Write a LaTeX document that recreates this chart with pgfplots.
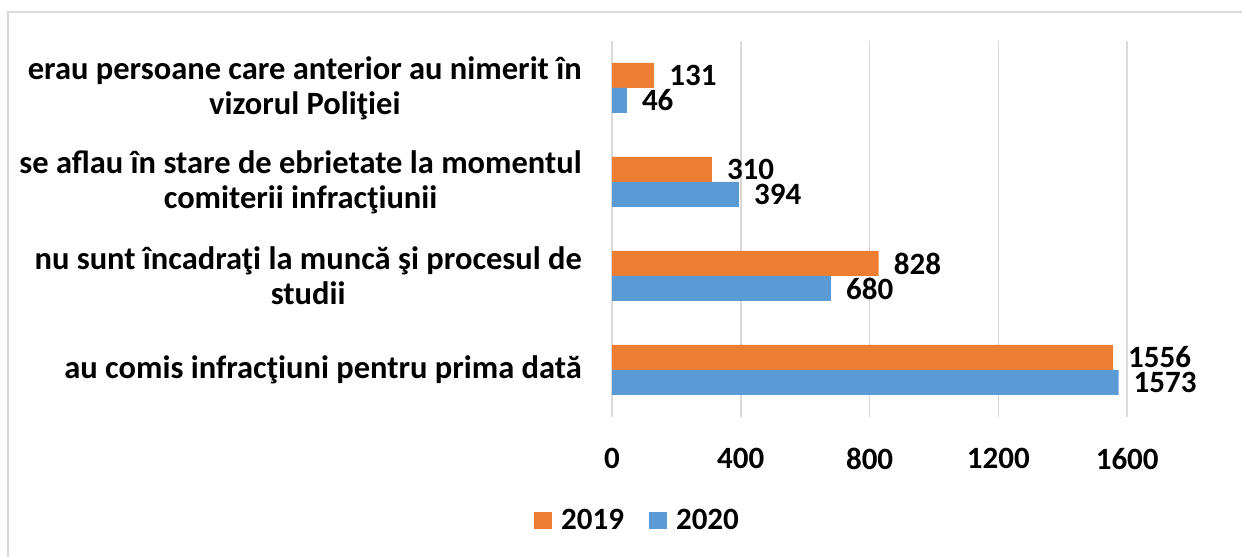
\documentclass[border=0pt]{standalone}
\usepackage{fontspec}
\setmainfont{Carlito}
\usepackage{pgfplots}
\pgfplotsset{compat=1.18}
\definecolor{c19}{HTML}{ED7D31}
\definecolor{c20}{HTML}{5B9BD5}
\definecolor{gridc}{HTML}{D9D9D9}
\newcommand{\lbl}{\fontsize{31bp}{34bp}\selectfont\bfseries}
\newcommand{\cat}{\fontsize{32.5bp}{35bp}\selectfont\bfseries}
\begin{document}
\begin{tikzpicture}[x=1bp,y=1bp]
\useasboundingbox (0,0) rectangle (1242,557);
\draw[gridc, line width=2bp] (8,0) -- (8,545) -- (1242,545);
\begin{axis}[
 at={(612bp,140bp)}, anchor=south west,
 scale only axis, width=579.6bp, height=376bp,
 xmin=0, xmax=1800, ymin=-0.5, ymax=3.5,
 xbar, bar width=25bp,
 axis line style={draw=none},
 xtick={0,400,800,1200,1600},
 xticklabels={0,400,800,1200,1600},
 ytick={0,1,2,3},
 yticklabels={{au comis infracţiuni pentru prima dată},{nu sunt încadraţi la muncă şi procesul de\\studii},{se aflau în stare de ebrietate la momentul\\comiterii infracţiunii},{erau persoane care anterior au nimerit în\\vizorul Poliţiei}},
 major tick length=0pt,
 tick style={draw=none},
 xmajorgrids, grid style={gridc, line width=1.5bp},
 xticklabel style={font=\lbl, inner sep=0pt, yshift=-31bp},
 yticklabel style={font=\cat, align=center, inner sep=0pt, xshift=-30bp},
 nodes near coords,
 every node near coord/.append style={font=\lbl, text=black, anchor=west, inner sep=0pt, xshift=15bp},
 /pgf/number format/1000 sep={},
 /pgf/number format/assume math mode=true,
 legend columns=2,
 legend style={draw=none, at={(-0.1346,-0.274)}, anchor=west, inner xsep=0pt, inner ysep=0pt, font=\lbl, nodes={inner sep=0pt},
   /tikz/every odd column/.append style={column sep=9bp},
   /tikz/every even column/.append style={column sep=25bp}},
 legend image code/.code={\fill[#1] (0bp,-8.5bp) rectangle (18bp,8.5bp);},
]
\addplot[fill=c19, draw=none, bar shift=12.5bp] coordinates {(1556,0) (828,1) (310,2) (131,3)};
\addplot[fill=c20, draw=none, bar shift=-12.5bp] coordinates {(1573,0) (680,1) (394,2) (46,3)};
\legend{2019,2020}
\end{axis}
\end{tikzpicture}
\end{document}
